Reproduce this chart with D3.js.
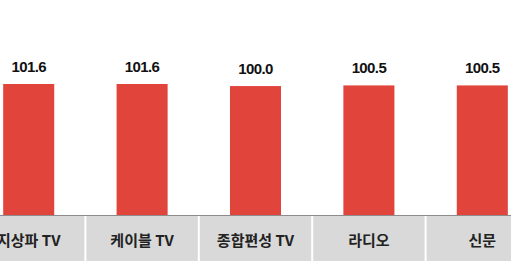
<!DOCTYPE html>
<html>
<head>
<meta charset="utf-8">
<script src="https://cdn.jsdelivr.net/npm/d3@7"></script>
<style>
  body { margin: 0; background: #fff; }
  svg { display: block; }
</style>
</head>
<body>
<div id="chart"></div>
<script>
var categories = ["지상파 TV", "케이블 TV", "종합편성 TV", "라디오", "신문"];
var values = [101.6, 101.6, 100.0, 100.5, 100.5];
var valueLabels = ["101.6", "101.6", "100.0", "100.5", "100.5"];

var width = 511, height = 264;
var baseY = 215;

var svg = d3.select("#chart").append("svg")
    .attr("width", width)
    .attr("height", height);

// band scale, shifted left so the first category is cut off like the original
var x = d3.scaleBand()
    .domain(categories)
    .range([-28, 539])
    .paddingInner(0.55)
    .paddingOuter(0.275);

var y = d3.scaleLinear()
    .domain([0, 101.6])
    .range([baseY, 84]);

var step = x.step();

// label boxes under the axis
svg.selectAll("rect.cat")
    .data(categories)
    .enter().append("rect")
    .attr("class", "cat")
    .attr("x", function(d) { return x(d) + x.bandwidth() / 2 - step / 2 + 1; })
    .attr("y", baseY + 1)
    .attr("width", step - 2)
    .attr("height", 45)
    .style("fill", "#d9d9d9");

svg.selectAll("text.cat")
    .data(categories)
    .enter().append("text")
    .attr("class", "cat")
    .attr("x", function(d) { return x(d) + x.bandwidth() / 2; })
    .attr("y", 245.5)
    .attr("text-anchor", "middle")
    .style("font-family", "'Noto Sans CJK KR', sans-serif")
    .style("font-size", "15px")
    .style("font-weight", "700")
    .style("fill", "#222")
    .text(function(d) { return d; });

// bars
svg.selectAll("rect.bar")
    .data(values)
    .enter().append("rect")
    .attr("class", "bar")
    .attr("x", function(d, i) { return x(categories[i]); })
    .attr("y", function(d) { return y(d); })
    .attr("width", x.bandwidth())
    .attr("height", function(d) { return baseY - y(d); })
    .style("fill", "#e0443a");

// baseline
svg.append("line")
    .attr("x1", 0).attr("x2", width)
    .attr("y1", baseY + 0.5).attr("y2", baseY + 0.5)
    .style("stroke", "#8c8c8c")
    .style("stroke-width", 1);

// value labels
svg.selectAll("text.val")
    .data(values)
    .enter().append("text")
    .attr("class", "val")
    .attr("x", function(d, i) { return x(categories[i]) + x.bandwidth() / 2; })
    .attr("y", function(d) { return y(d) - 12; })
    .attr("text-anchor", "middle")
    .style("font-family", "'Liberation Sans', Arial, sans-serif")
    .style("font-size", "15px")
    .style("font-weight", "bold")
    .style("letter-spacing", "-0.6px")
    .style("fill", "#111")
    .text(function(d, i) { return valueLabels[i]; });
</script>
</body>
</html>
